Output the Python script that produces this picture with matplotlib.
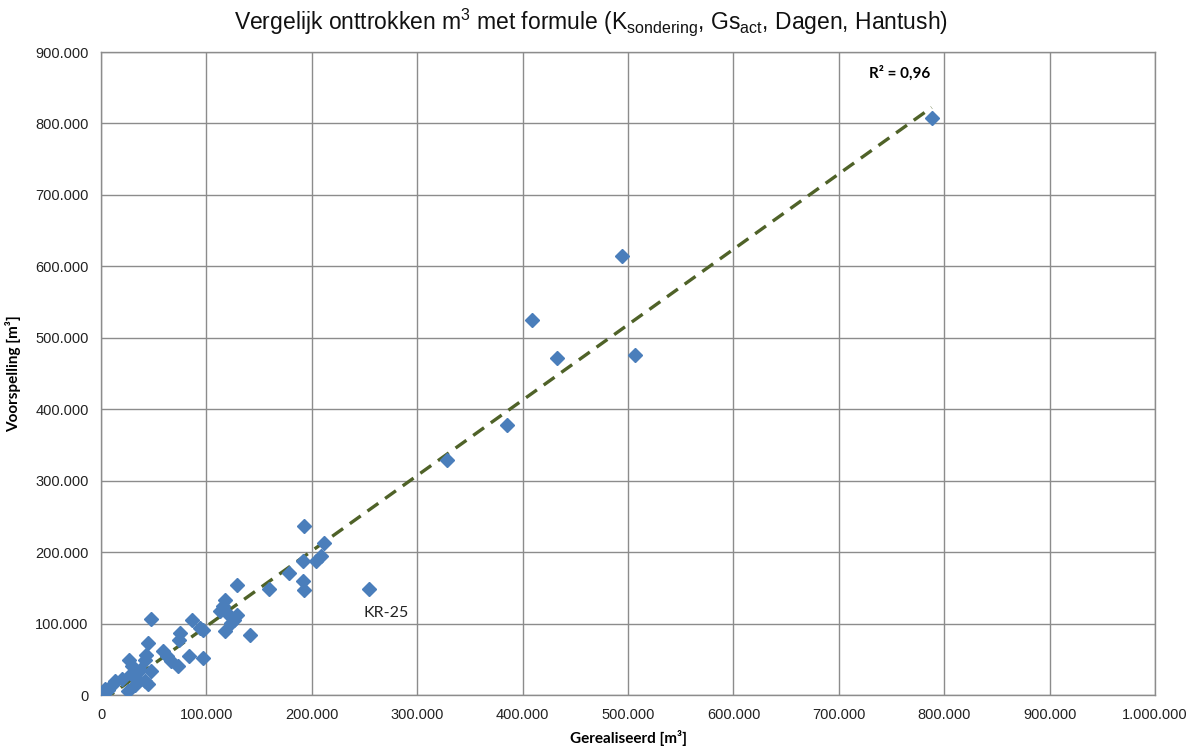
import numpy as np
import matplotlib
matplotlib.use("Agg")
import matplotlib.pyplot as plt
from matplotlib.ticker import FuncFormatter, MultipleLocator

# gerealiseerd vs voorspelling [m3]
gerealiseerd = [788000, 494000, 409000, 433000, 507000, 385000, 328000, 254000,
                193000, 212000, 209000, 204000, 192000, 178000, 192000, 193000,
                159000, 129000, 118000, 116000, 113000, 120000, 129000, 126000,
                123000, 118000, 141000, 47000, 86000, 94000, 97000, 75000,
                74000, 45000, 59000, 63000, 66000, 73000, 83000, 97000,
                43000, 42000, 27000, 29000, 37000, 47000, 28000, 34000,
                42000, 45000, 32000, 26000, 20000, 13000, 10000, 4000,
                2000, 7000]
voorspelling = [808000, 614000, 525000, 472000, 476000, 378000, 329000, 148000,
                237000, 213000, 194000, 188000, 187000, 171000, 159000, 147000,
                148000, 154000, 133000, 124000, 117000, 114000, 112000, 105000,
                101000, 89000, 84000, 106000, 105000, 94000, 91000, 87000,
                77000, 73000, 61000, 54000, 47000, 41000, 55000, 52000,
                56000, 49000, 49000, 40000, 35000, 33000, 30000, 23000,
                19000, 16000, 14000, 5000, 23000, 19000, 14000, 9000,
                3000, 7000]

x = np.array(gerealiseerd)
y = np.array(voorspelling)

# lineaire trendlijn
coef = np.polyfit(x, y, 1)
xl = np.array([x.min(), x.max()])
yl = np.polyval(coef, xl)
r2 = np.corrcoef(x, y)[0, 1] ** 2

def nl_fmt(v, pos):
    return f"{int(round(v)):,}".replace(",", ".")

plt.rcParams["mathtext.fontset"] = "custom"
plt.rcParams["mathtext.rm"] = "Liberation Sans"
plt.rcParams["mathtext.it"] = "Liberation Sans:italic"
plt.rcParams["mathtext.bf"] = "Liberation Sans:bold"

fig = plt.figure(figsize=(11.97, 7.54), dpi=100)
ax = fig.add_axes([0.0844, 0.0782, 0.8806, 0.8528])

ax.plot(xl, yl, linestyle=(0, (4, 2.5)), color="#4F6228", linewidth=2.4, zorder=3)
ax.plot(x, y, linestyle="none", marker="D", markersize=7, color="#4A7EBB",
        markeredgecolor="#4A7EBB", zorder=4)

ax.set_xlim(0, 1000000)
ax.set_ylim(0, 900000)
ax.xaxis.set_major_locator(MultipleLocator(100000))
ax.yaxis.set_major_locator(MultipleLocator(100000))
ax.xaxis.set_major_formatter(FuncFormatter(nl_fmt))
ax.yaxis.set_major_formatter(FuncFormatter(nl_fmt))
ax.grid(True, color="#8C8C8C", linewidth=1)
ax.set_axisbelow(True)
for s in ax.spines.values():
    s.set_color("#8C8C8C")
    s.set_linewidth(1)
ax.tick_params(length=0, pad=9, labelsize=10.5, labelcolor="#222222")
for lab in ax.get_xticklabels() + ax.get_yticklabels():
    lab.set_family("Liberation Sans")

ax.set_xlabel("Gerealiseerd [m³]", fontsize=11, fontweight="bold",
              family="Lato", labelpad=6)
ax.set_ylabel("Voorspelling [m³]", fontsize=11, fontweight="bold",
              family="Lato", labelpad=10)
fig.text(0.494, 0.971,
         "Vergelijk onttrokken m$^\\mathregular{3}$ met formule (K$_{\\mathregular{sondering}}$, "
         "Gs$_{\\mathregular{act}}$, Dagen, Hantush)",
         ha="center", va="center", fontsize=16.5, family="Liberation Sans",
         color="#111111")

ax.text(0.758, 0.967, "R² = " + f"{r2:.2f}".replace(".", ","),
        transform=ax.transAxes, ha="center", va="center", fontsize=11,
        fontweight="bold", family="Lato")
ax.annotate("KR-25", xy=(gerealiseerd[7], voorspelling[7]), xytext=(-3.6, -17),
            textcoords="offset points", va="center", fontsize=11.5,
            family="Lato", color="#222222")

fig.savefig("out.png", dpi=100)
